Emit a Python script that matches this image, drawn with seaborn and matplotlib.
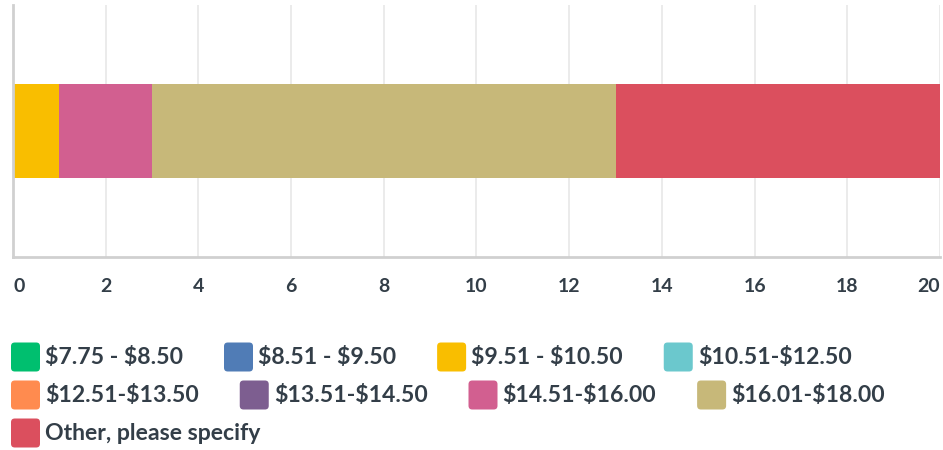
import matplotlib
matplotlib.use("Agg")
import matplotlib.pyplot as plt
import seaborn as sns
import numpy as np
from matplotlib.patches import FancyBboxPatch

# Data
categories = ["$7.75 - $8.50", "$8.51 - $9.50", "$9.51 - $10.50", "$10.51-$12.50",
              "$12.51-$13.50", "$13.51-$14.50", "$14.51-$16.00", "$16.01-$18.00",
              "Other, please specify"]
counts = [0, 0, 1, 0, 0, 0, 2, 10, 7]
colors = ["#00bf6f", "#507cb6", "#f9be00", "#6bc8cd", "#ff8b4f",
          "#7d5e90", "#d25f90", "#c7b879", "#db4f5e"]
x_ticks = [0, 2, 4, 6, 8, 10, 12, 14, 16, 18, 20]

TEXT = "#333e48"
sns.set_style("white")
plt.rcParams["font.family"] = ["Lato", "DejaVu Sans"]

W, H = 943, 450
fig = plt.figure(figsize=(W / 100, H / 100), dpi=100)
ax = fig.add_axes([13 / W, 1 - 257 / H, (940 - 13) / W, (257 - 5) / H])

# Stacked bar via overlapping cumulative bars (largest drawn first)
cum = np.cumsum(counts)
for i in range(len(categories) - 1, -1, -1):
    sns.barplot(x=[cum[i]], y=["r"], color=colors[i], width=0.37,
                saturation=1, orient="h", ax=ax, linewidth=0)

ax.set_xlim(0, 20)
ax.set_ylim(0.5, -0.5)
ax.set_xticks(x_ticks)
ax.set_xticklabels([str(t) for t in x_ticks])
ax.set_yticks([])
ax.set_xlabel("")
ax.set_ylabel("")
ax.grid(axis="x", color="#e9e9e9", linewidth=1.3)
ax.set_axisbelow(True)
for s in ["top", "right"]:
    ax.spines[s].set_visible(False)
for s in ["left", "bottom"]:
    ax.spines[s].set_color("#d0d0d0")
    ax.spines[s].set_linewidth(2)
ax.tick_params(axis="x", length=0, pad=15, labelsize=14, labelcolor=TEXT)
labels = ax.get_xticklabels()
labels[0].set_ha("left")
labels[-1].set_ha("right")
for lab in labels:
    lab.set_fontweight("bold")

# Flow-layout legend below the chart
fig.canvas.draw()
renderer = fig.canvas.get_renderer()
x = 11
row_y = 357
sw = 29
for name, col in zip(categories, colors):
    t = fig.text(0, 0, name, fontsize=16.6, color=TEXT, fontweight="bold",
                 va="center", ha="left", transform=None, parse_math=False)
    tw = t.get_window_extent(renderer).width
    if x + sw + 5 + tw > W - 5:
        x = 11
        row_y += 38
    patch = FancyBboxPatch((x / W, 1 - (row_y + sw / 2) / H), sw / W, sw / H,
                           boxstyle="round,pad=0,rounding_size=0.004",
                           transform=fig.transFigure, facecolor=col,
                           edgecolor="none", mutation_aspect=W / H)
    fig.patches.append(patch)
    t.set_transform(fig.transFigure)
    t.set_position(((x + sw + 5) / W, 1 - row_y / H))
    x = x + sw + 5 + tw + 41

fig.savefig("out.png", dpi=100)
